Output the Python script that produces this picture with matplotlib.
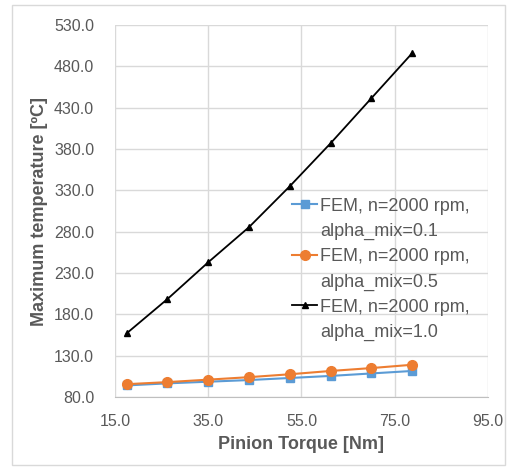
import matplotlib
matplotlib.use("Agg")
import matplotlib.pyplot as plt
from matplotlib.lines import Line2D
from matplotlib.patches import Rectangle

torque = [17.5, 26.25, 35.0, 43.75, 52.5, 61.25, 70.0, 78.75]
temp_a01 = [94.0, 96.5, 98.5, 100.5, 103.0, 105.5, 108.5, 111.5]
temp_a05 = [95.5, 98.0, 101.0, 104.0, 107.5, 111.5, 115.0, 119.0]
temp_a10 = [157.0, 198.5, 243.0, 285.5, 335.0, 387.0, 441.5, 496.0]
labels = ["FEM, n=2000 rpm,\nalpha_mix=0.1",
          "FEM, n=2000 rpm,\nalpha_mix=0.5",
          "FEM, n=2000 rpm,\nalpha_mix=1.0"]
xticks = [15.0, 35.0, 55.0, 75.0, 95.0]
yticks = [80.0, 130.0, 180.0, 230.0, 280.0, 330.0, 380.0, 430.0, 480.0, 530.0]

plt.rcParams['font.family'] = ['Liberation Sans', 'DejaVu Sans']
fig = plt.figure(figsize=(5.1, 4.7), dpi=100)
ax = fig.add_axes([115/510, 1-397/470, (488-115)/510, (397-25)/470])

gray = '#595959'
l1, = ax.plot(torque, temp_a01, color='#5b9bd5', marker='s', markersize=6, lw=1.5)
l2, = ax.plot(torque, temp_a05, color='#ed7d31', marker='o', markersize=7, lw=1.5)
l3, = ax.plot(torque, temp_a10, color='black', marker='^', markersize=5, lw=1.3)

ax.set_xlim(15, 95)
ax.set_ylim(80, 530)
ax.set_xticks(xticks)
ax.set_yticks(yticks)
ax.set_xticklabels([f"{v:.1f}" for v in xticks])
ax.set_yticklabels([f"{v:.1f}" for v in yticks])
ax.tick_params(axis='both', length=0, labelsize=11.5, colors=gray)
ax.tick_params(axis='y', pad=15)
ax.tick_params(axis='x', pad=12)
ax.grid(True, color='#d9d9d9', lw=1)
ax.set_axisbelow(True)
for s in ['top', 'right', 'left']:
    ax.spines[s].set_visible(False)
ax.spines['bottom'].set_color('#bfbfbf')

ax.set_xlabel("Pinion Torque [Nm]", fontsize=13, fontweight='bold', color=gray, labelpad=5)
ax.set_ylabel("Maximum temperature [ºC]", fontsize=13, fontweight='bold', color=gray, labelpad=4)

blank = Line2D([], [], linestyle='none')
handles, labs = [], []
for h, lab in zip([l1, l2, l3], labels):
    first, second = lab.split("\n")
    handles += [h, blank]
    labs += [first, second]
leg = ax.legend(handles, labs, loc='upper left', bbox_to_anchor=(0.455, 0.555),
                frameon=False, fontsize=13, labelspacing=0.45, handlelength=1.4,
                handletextpad=0.15, borderaxespad=0)
for t in leg.get_texts():
    t.set_color(gray)

fig.patches.append(Rectangle((12/510, 5/470), (505-12)/510, (465-5)/470,
                             transform=fig.transFigure, fill=False,
                             edgecolor='#d9d9d9', lw=1))
fig.savefig("out.png", dpi=100)
